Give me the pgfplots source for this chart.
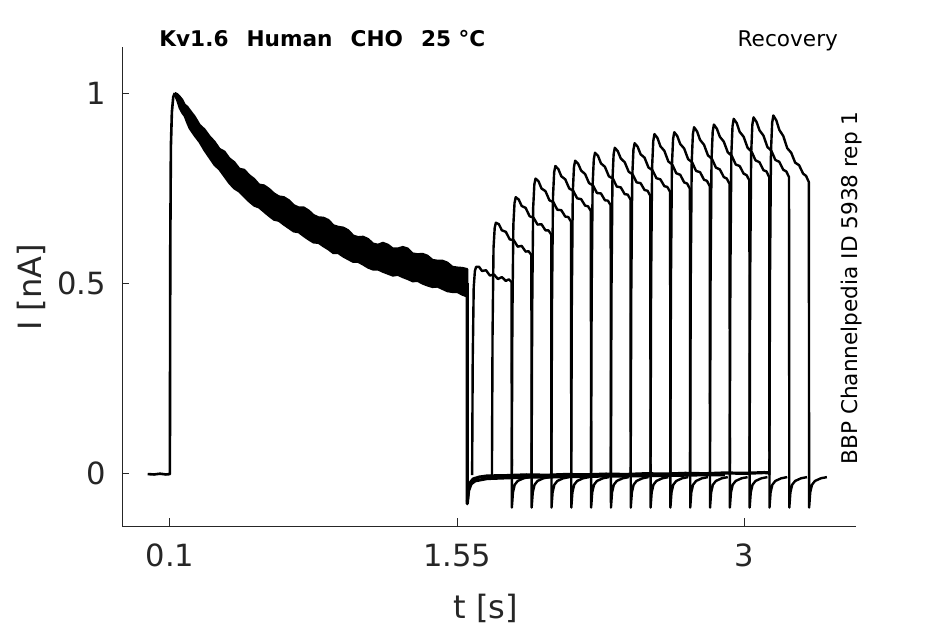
\documentclass[border=0pt]{standalone}
\usepackage{pgfplots}
\pgfplotsset{compat=1.18}
\usepackage{fontspec}
\setmainfont{DejaVu Sans}
\definecolor{mgray}{HTML}{262626}
\begin{document}
\begin{tikzpicture}
\path[use as bounding box] (-61bp,-49bp) rectangle (411.5bp,263bp);
\begin{axis}[
  at={(0,0)}, anchor=south west,
  scale only axis, width=367bp, height=239.5bp,
  xmin=-0.1417, xmax=3.562, ymin=-0.1385, ymax=1.121,
  axis x line*=bottom, axis y line*=left,
  axis line style={mgray, line width=0.5bp, -},
  xtick={0.1,1.55,3}, xticklabels={0.1,1.55,3},
  ytick={0,0.5,1}, yticklabels={0,0.5,1},
  tick align=inside, major tick length=3.75bp,
  tick style={mgray, line width=0.5bp},
  ticklabel style={font=\fontsize{15.35}{18}\selectfont, text=mgray},
  xticklabel style={yshift=-5.5bp},
  yticklabel style={xshift=-4.4bp},
  /pgf/number format/assume math mode=true,
  every axis plot/.append style={black, line join=round},
]
% baseline and rise of first pulse
\addplot[line width=1.3bp] coordinates {(-0.012,-0.002)(0.02,-0.003)(0.05,-0.001)(0.08,-0.003)(0.1,-0.002)(0.1005,0.2)(0.102,0.6)(0.105,0.86)(0.11,0.95)(0.117,0.99)(0.125,1.0)};
% noisy band of first pulse (overlaid sweeps)
\addplot[fill=black, draw=black, line width=1.1bp] coordinates {
(0.125,1.000)(0.1375,0.997)(0.15,0.990)(0.1625,0.982)(0.175,0.969)(0.1875,0.964)(0.2,0.955)(0.225,0.938)(0.25,0.916)(0.275,0.904)(0.3,0.886)(0.325,0.872)(0.35,0.853)(0.375,0.846)(0.4,0.828)(0.425,0.818)(0.45,0.801)(0.475,0.798)(0.5,0.784)(0.525,0.774)(0.55,0.759)(0.575,0.757)(0.6,0.748)(0.625,0.736)(0.65,0.728)(0.675,0.726)(0.7,0.718)(0.725,0.705)(0.75,0.699)(0.775,0.699)(0.8,0.691)(0.825,0.679)(0.85,0.673)(0.875,0.672)(0.9,0.666)(0.925,0.652)(0.95,0.648)(0.975,0.646)(1.0,0.639)(1.025,0.625)(1.05,0.621)(1.075,0.622)(1.1,0.616)(1.125,0.604)(1.15,0.601)(1.175,0.606)(1.2,0.601)(1.225,0.591)(1.25,0.591)(1.275,0.595)(1.3,0.591)(1.325,0.578)(1.35,0.576)(1.375,0.577)(1.4,0.572)(1.425,0.561)(1.45,0.559)(1.475,0.559)(1.5,0.554)(1.525,0.543)(1.55,0.541)(1.575,0.540)(1.6,0.537)
(1.6,0.465)(1.575,0.470)(1.55,0.477)(1.525,0.477)(1.5,0.479)(1.475,0.485)(1.45,0.491)(1.425,0.490)(1.4,0.494)(1.375,0.499)(1.35,0.506)(1.325,0.505)(1.3,0.511)(1.275,0.516)(1.25,0.522)(1.225,0.520)(1.2,0.525)(1.175,0.530)(1.15,0.536)(1.125,0.536)(1.1,0.541)(1.075,0.549)(1.05,0.556)(1.025,0.556)(1.0,0.563)(0.975,0.570)(0.95,0.579)(0.925,0.579)(0.9,0.589)(0.875,0.597)(0.85,0.606)(0.825,0.607)(0.8,0.615)(0.775,0.624)(0.75,0.634)(0.725,0.636)(0.7,0.645)(0.675,0.654)(0.65,0.664)(0.625,0.667)(0.6,0.677)(0.575,0.688)(0.55,0.699)(0.525,0.704)(0.5,0.715)(0.475,0.728)(0.45,0.741)(0.425,0.749)(0.4,0.763)(0.375,0.781)(0.35,0.799)(0.325,0.811)(0.3,0.830)(0.275,0.849)(0.25,0.871)(0.225,0.888)(0.2,0.907)(0.1875,0.922)(0.175,0.939)(0.1625,0.948)(0.15,0.960)(0.1375,0.980)(0.125,0.995)(0.125,1.000)};
% tail after first pulse and inter-pulse baseline
\addplot[line width=1.6bp] coordinates {(1.6,0.500)(1.6005,-0.080)(1.606,-0.045)(1.615,-0.025)(1.63,-0.015)(1.66,-0.010)(1.7,-0.007)(1.8,-0.006)(1.9,-0.004)(2.0,-0.005)(2.1,-0.003)(2.2,-0.004)(2.3,-0.002)(2.4,-0.003)(2.5,-0.001)(2.6,-0.002)(2.7,0.000)(2.8,-0.001)(2.9,0.001)(3.0,0.000)(3.1,0.002)(3.125,0.001)};
\addplot[line width=1.5bp] coordinates {(1.6005,-0.075)(1.608,-0.045)(1.62,-0.028)(1.64,-0.020)(1.7,-0.014)(1.8,-0.012)(1.9,-0.010)(2.0,-0.010)(2.2,-0.008)(2.4,-0.007)(2.6,-0.006)(2.8,-0.004)(2.9,-0.004)};
% second pulses, one per sweep
\addplot[line width=1.2bp] coordinates {(1.625,-0.005)(1.628,0.299)(1.633,0.489)(1.639,0.532)(1.645,0.543)(1.660,0.543)(1.675,0.532)(1.695,0.534)(1.715,0.520)(1.735,0.523)(1.755,0.511)(1.775,0.516)(1.795,0.506)(1.810,0.510)(1.824,0.503)(1.8255,-0.090)(1.831,-0.050)(1.840,-0.030)(1.855,-0.020)(1.885,-0.013)(1.915,-0.010)};
\addplot[line width=1.2bp] coordinates {(1.725,-0.005)(1.728,0.362)(1.733,0.593)(1.739,0.646)(1.745,0.659)(1.760,0.655)(1.775,0.639)(1.795,0.635)(1.815,0.615)(1.835,0.613)(1.855,0.596)(1.875,0.598)(1.895,0.583)(1.910,0.584)(1.924,0.574)(1.9255,-0.090)(1.931,-0.050)(1.940,-0.030)(1.955,-0.020)(1.985,-0.013)(2.015,-0.010)};
\addplot[line width=1.2bp] coordinates {(1.825,-0.005)(1.828,0.399)(1.833,0.653)(1.839,0.711)(1.845,0.726)(1.860,0.720)(1.875,0.703)(1.895,0.698)(1.915,0.676)(1.935,0.672)(1.955,0.654)(1.975,0.655)(1.995,0.639)(2.010,0.639)(2.024,0.628)(2.0255,-0.090)(2.031,-0.050)(2.040,-0.030)(2.055,-0.020)(2.085,-0.013)(2.115,-0.010)};
\addplot[line width=1.2bp] coordinates {(1.925,-0.005)(1.928,0.426)(1.933,0.698)(1.939,0.760)(1.945,0.775)(1.960,0.768)(1.975,0.749)(1.995,0.742)(2.015,0.718)(2.035,0.713)(2.055,0.693)(2.075,0.692)(2.095,0.675)(2.110,0.674)(2.124,0.662)(2.1255,-0.090)(2.131,-0.050)(2.140,-0.030)(2.155,-0.020)(2.185,-0.013)(2.215,-0.010)};
\addplot[line width=1.2bp] coordinates {(2.025,-0.005)(2.028,0.444)(2.033,0.727)(2.039,0.792)(2.045,0.808)(2.060,0.800)(2.075,0.781)(2.095,0.773)(2.115,0.749)(2.135,0.743)(2.155,0.723)(2.175,0.721)(2.195,0.704)(2.210,0.702)(2.224,0.690)(2.2255,-0.090)(2.231,-0.050)(2.240,-0.030)(2.255,-0.020)(2.285,-0.013)(2.315,-0.010)};
\addplot[line width=1.2bp] coordinates {(2.125,-0.005)(2.128,0.452)(2.133,0.740)(2.139,0.806)(2.145,0.822)(2.160,0.814)(2.175,0.796)(2.195,0.787)(2.215,0.763)(2.235,0.757)(2.255,0.737)(2.275,0.736)(2.295,0.718)(2.310,0.717)(2.324,0.705)(2.3255,-0.090)(2.331,-0.050)(2.340,-0.030)(2.355,-0.020)(2.385,-0.013)(2.415,-0.010)};
\addplot[line width=1.2bp] coordinates {(2.225,-0.005)(2.228,0.464)(2.233,0.759)(2.239,0.826)(2.245,0.843)(2.260,0.835)(2.275,0.815)(2.295,0.806)(2.315,0.781)(2.335,0.775)(2.355,0.754)(2.375,0.752)(2.395,0.734)(2.410,0.733)(2.424,0.720)(2.4255,-0.090)(2.431,-0.050)(2.440,-0.030)(2.455,-0.020)(2.485,-0.013)(2.515,-0.010)};
\addplot[line width=1.2bp] coordinates {(2.325,-0.005)(2.328,0.471)(2.333,0.770)(2.339,0.839)(2.345,0.856)(2.360,0.847)(2.375,0.828)(2.395,0.818)(2.415,0.793)(2.435,0.786)(2.455,0.765)(2.475,0.763)(2.495,0.745)(2.510,0.743)(2.524,0.730)(2.5255,-0.090)(2.531,-0.050)(2.540,-0.030)(2.555,-0.020)(2.585,-0.013)(2.615,-0.010)};
\addplot[line width=1.2bp] coordinates {(2.425,-0.005)(2.428,0.477)(2.433,0.781)(2.439,0.851)(2.445,0.868)(2.460,0.859)(2.475,0.839)(2.495,0.830)(2.515,0.804)(2.535,0.797)(2.555,0.776)(2.575,0.773)(2.595,0.755)(2.610,0.753)(2.624,0.740)(2.6255,-0.090)(2.631,-0.050)(2.640,-0.030)(2.655,-0.020)(2.685,-0.013)(2.715,-0.010)};
\addplot[line width=1.2bp] coordinates {(2.525,-0.005)(2.528,0.491)(2.533,0.803)(2.539,0.874)(2.545,0.892)(2.560,0.882)(2.575,0.860)(2.595,0.848)(2.615,0.820)(2.635,0.812)(2.655,0.789)(2.675,0.785)(2.695,0.765)(2.710,0.762)(2.724,0.748)(2.7255,-0.090)(2.731,-0.050)(2.740,-0.030)(2.755,-0.020)(2.785,-0.013)(2.815,-0.010)};
\addplot[line width=1.2bp] coordinates {(2.625,-0.005)(2.628,0.493)(2.633,0.807)(2.639,0.879)(2.645,0.897)(2.660,0.887)(2.675,0.866)(2.695,0.854)(2.715,0.826)(2.735,0.818)(2.755,0.795)(2.775,0.792)(2.795,0.772)(2.810,0.769)(2.824,0.755)(2.8255,-0.090)(2.831,-0.050)(2.840,-0.030)(2.855,-0.020)(2.885,-0.013)(2.915,-0.010)};
\addplot[line width=1.2bp] coordinates {(2.725,-0.005)(2.728,0.501)(2.733,0.819)(2.739,0.892)(2.745,0.910)(2.760,0.899)(2.775,0.877)(2.795,0.864)(2.815,0.836)(2.835,0.827)(2.855,0.804)(2.875,0.799)(2.895,0.779)(2.910,0.775)(2.924,0.761)(2.9255,-0.090)(2.931,-0.050)(2.940,-0.030)(2.955,-0.020)(2.985,-0.013)(3.015,-0.010)};
\addplot[line width=1.2bp] coordinates {(2.825,-0.005)(2.828,0.504)(2.833,0.825)(2.839,0.899)(2.845,0.917)(2.860,0.906)(2.875,0.885)(2.895,0.872)(2.915,0.844)(2.935,0.835)(2.955,0.812)(2.975,0.808)(2.995,0.788)(3.010,0.784)(3.024,0.770)(3.0255,-0.090)(3.031,-0.050)(3.040,-0.030)(3.055,-0.020)(3.085,-0.013)(3.115,-0.010)};
\addplot[line width=1.2bp] coordinates {(2.925,-0.005)(2.928,0.513)(2.933,0.839)(2.939,0.913)(2.945,0.932)(2.960,0.921)(2.975,0.898)(2.995,0.885)(3.015,0.856)(3.035,0.846)(3.055,0.823)(3.075,0.818)(3.095,0.797)(3.110,0.794)(3.124,0.779)(3.1255,-0.090)(3.131,-0.050)(3.140,-0.030)(3.155,-0.020)(3.185,-0.013)(3.215,-0.010)};
\addplot[line width=1.2bp] coordinates {(3.025,-0.005)(3.028,0.515)(3.033,0.842)(3.039,0.917)(3.045,0.936)(3.060,0.924)(3.075,0.902)(3.095,0.888)(3.115,0.858)(3.135,0.848)(3.155,0.824)(3.175,0.819)(3.195,0.798)(3.210,0.794)(3.224,0.779)(3.2255,-0.090)(3.231,-0.050)(3.240,-0.030)(3.255,-0.020)(3.285,-0.013)(3.315,-0.010)};
\addplot[line width=1.2bp] coordinates {(3.125,-0.005)(3.128,0.518)(3.133,0.847)(3.139,0.922)(3.145,0.941)(3.160,0.928)(3.175,0.903)(3.195,0.887)(3.215,0.855)(3.235,0.843)(3.255,0.817)(3.275,0.810)(3.295,0.788)(3.310,0.782)(3.324,0.766)(3.3255,-0.090)(3.331,-0.050)(3.340,-0.030)(3.355,-0.020)(3.385,-0.013)(3.415,-0.010)};
\end{axis}
% labels and annotations
\node[anchor=base, inner sep=0, text=mgray, font=\fontsize{16.1}{19}\selectfont] at (181.9bp,-46bp) {t [s]};
\node[anchor=base, rotate=90, inner sep=0, text=mgray, font=\fontsize{16.1}{19}\selectfont] at (-40.15bp,119.25bp) {I [nA]};
\node[anchor=base west, inner sep=0, font=\fontsize{10.85}{13}\selectfont\bfseries] at (18.5bp,239.65bp) {Kv1.6\ \ \hspace{1.5bp}Human\ \ \hspace{1.5bp}CHO\ \ \hspace{1.5bp}25 °C};
\node[anchor=base east, inner sep=0, font=\fontsize{10.85}{13}\selectfont] at (358.15bp,239.65bp) {Recovery};
\node[anchor=base, rotate=90, inner sep=0, font=\fontsize{10.85}{13}\selectfont] at (367.65bp,119bp) {BBP Channelpedia ID 5938 rep 1};
\end{tikzpicture}
\end{document}
